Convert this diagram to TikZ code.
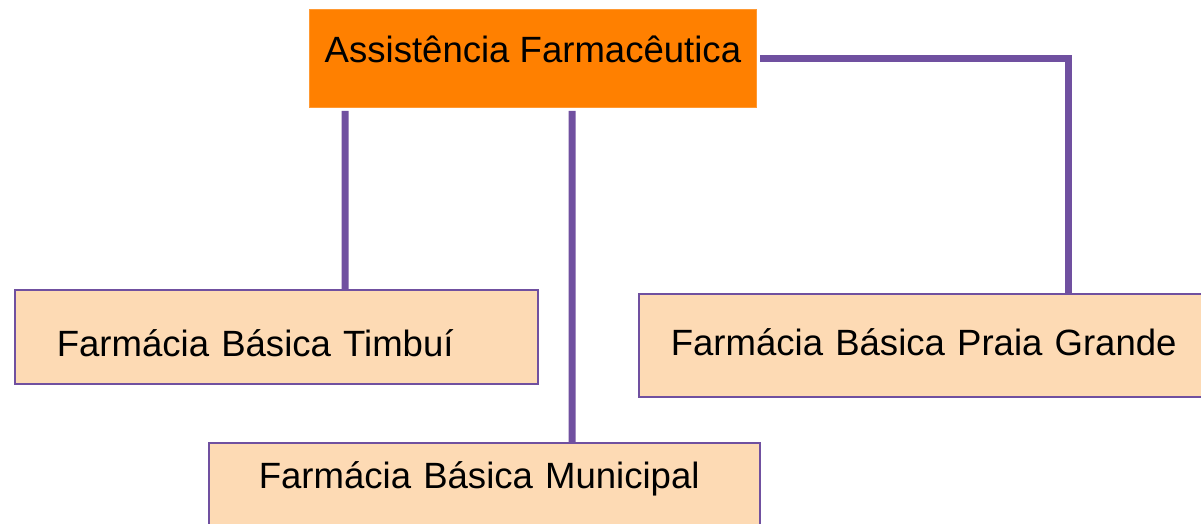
\documentclass[tikz,border=0pt]{standalone}
\usepackage{fontspec}
\setmainfont{Liberation Sans}
\usepackage{tikz}
\definecolor{laranja}{HTML}{FF8000}
\definecolor{pessego}{HTML}{FDDAB4}
\definecolor{roxo}{HTML}{7050A0}

\begin{document}
\begin{tikzpicture}[auto,
    chefe/.style ={rectangle, fill=laranja, draw=laranja!80!white, line width=0.5pt,
      anchor=north west, inner sep=0pt, minimum width=8.94cm,
      font=\fontsize{20.8}{25}\selectfont},
    farmacia/.style ={rectangle, fill=pessego, draw=roxo, line width=0.9pt,
      anchor=north west, inner ysep=0pt, align=left,
      font=\fontsize{20.8}{25}\selectfont},
    ligacao/.style ={draw=roxo, line width=0.14cm}]
   \useasboundingbox (0,0) rectangle (24.02,10.48);
   \node[chefe, text height=1.06cm, text depth=0.90cm] (AF) at (6.18,10.30) {Assistência Farmacêutica};
   \node[farmacia, inner xsep=0.84cm, text width=8.78cm, text height=1.34cm, text depth=0.54cm]
     (T) at (0.28,4.70) {Farmácia Básica Timbuí};
   \node[farmacia, inner xsep=1.00cm, text width=9.02cm, text height=0.92cm, text depth=1.20cm]
     (M) at (4.16,1.64) {Farmácia Básica Municipal};
   \node[farmacia, inner xsep=0.64cm, text width=10.72cm, text height=1.24cm, text depth=0.82cm]
     (P) at (12.76,4.62) {Farmácia Básica Praia Grande};
   \draw[ligacao] ([xshift=0.72cm,yshift=-0.06cm]AF.south west) to ([xshift=6.62cm]T.north west);
   \draw[ligacao] ([xshift=5.26cm,yshift=-0.06cm]AF.south west) to ([xshift=7.28cm]M.north west);
   \draw[ligacao] ([xshift=0.06cm]AF.east) -| ([xshift=8.60cm]P.north west);
 \end{tikzpicture}
\end{document}
